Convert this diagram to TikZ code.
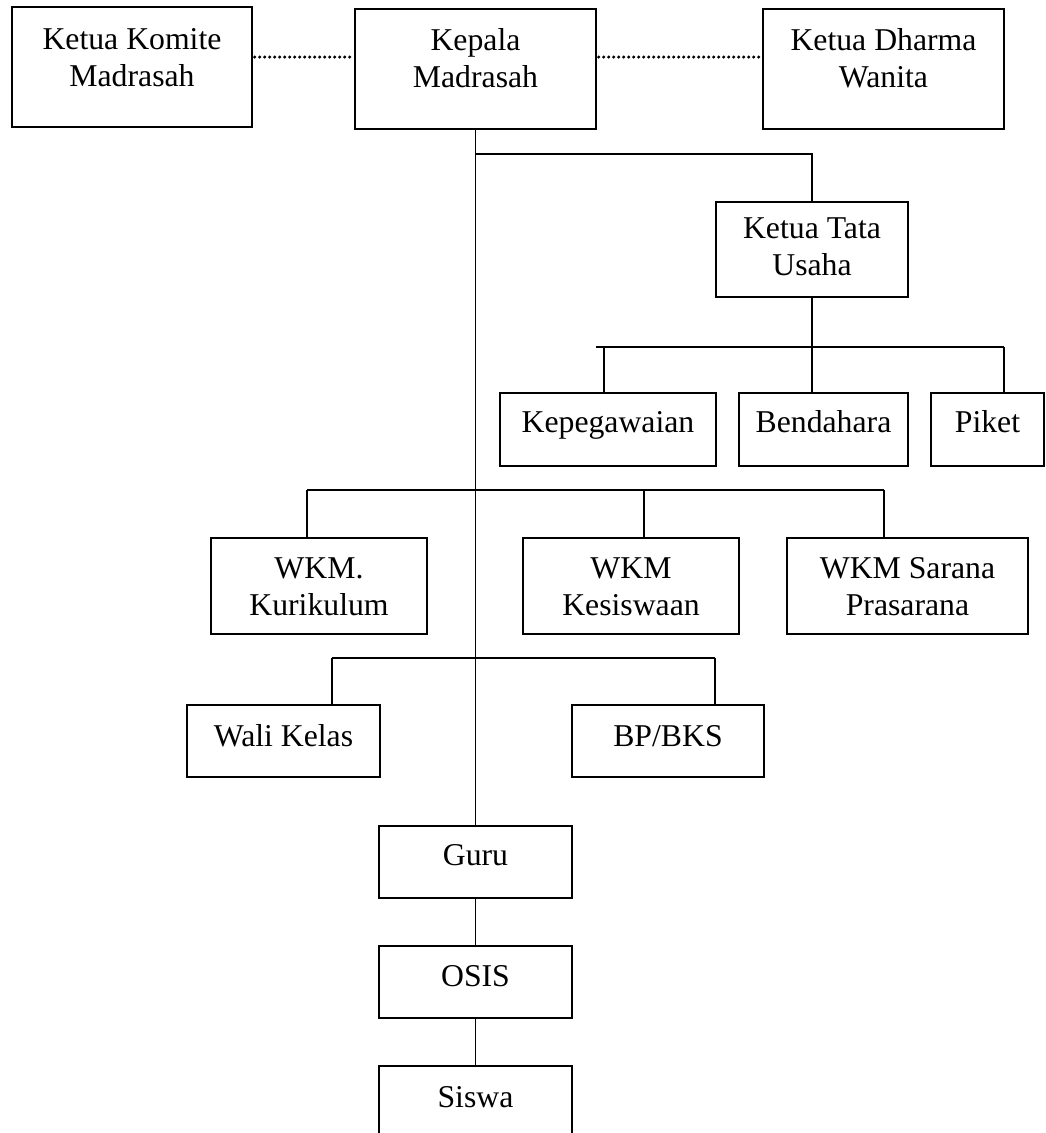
\documentclass[tikz,border=0pt]{standalone}
\usepackage{fontspec}
\setmainfont{Liberation Serif}
% name, x1, y1, x2, y2, offset of last baseline below top (px), text
\newcommand\orgbox[7]{%
  \node[boxst, anchor=north west, minimum width={(#4-#2)*0.75pt}, minimum height={(#5-#3)*0.75pt}] (#1) at (#2,#3) {};
  \node[txtst, anchor=base] (#1-t) at ([yshift={-(#6)*0.75pt}]#1.north) {#7};
}
\begin{document}
\begin{tikzpicture}[x=0.75pt,y=-0.75pt,
  boxst/.style={draw=black, line width=1.2pt, inner sep=0pt, outer sep=0pt, rectangle},
  txtst/.style={align=center, inner sep=0pt, font=\fontsize{23.8}{27.75}\selectfont},
  conn/.style={line width=1.2pt},
  dotline/.style={line width=2.5pt, line cap=round, dash pattern=on 0pt off 3.75pt}]
\clip (0,0) rectangle (1046,1133);
\fill[white] (0,0) rectangle (1046,1133);

\orgbox{komite}{12}{7}{252}{127}{79}{Ketua Komite\\Madrasah}
\orgbox{kepala}{355}{9}{596}{129}{78}{Kepala\\Madrasah}
\orgbox{dharma}{763}{9}{1004}{129}{78}{Ketua Dharma\\Wanita}
\orgbox{tata}{716}{202}{908}{297}{73}{Ketua Tata\\Usaha}
\orgbox{kepeg}{500}{393}{716}{466}{39}{Kepegawaian}
\orgbox{benda}{739}{393}{908}{466}{39}{Bendahara}
\orgbox{piket}{931}{393}{1044}{466}{39}{Piket}
\orgbox{kuri}{211}{538}{427}{634}{77}{WKM.\\Kurikulum}
\orgbox{kesis}{523}{538}{739}{634}{77}{WKM\\Kesiswaan}
\orgbox{sarana}{787}{538}{1028}{634}{77}{WKM Sarana\\Prasarana}
\orgbox{wali}{187}{705}{380}{777}{41}{Wali Kelas}
\orgbox{bp}{572}{705}{764}{777}{41}{BP/BKS}
\orgbox{guru}{379}{826}{572}{898}{39}{Guru}
\orgbox{osis}{379}{946}{572}{1018}{40}{OSIS}
\orgbox{siswa}{379}{1066}{572}{1150}{41}{Siswa}

% dotted links
\draw[dotline] ([xshift=2pt]komite.east |- 0,57) -- ([xshift=-2pt]kepala.west |- 0,57);
\draw[dotline] ([xshift=2pt]kepala.east |- 0,57) -- ([xshift=-2pt]dharma.west |- 0,57);

% trunk
\draw[conn] (kepala.south) -- (guru.north);
\draw[conn] (guru.south) -- (osis.north);
\draw[conn] (osis.south) -- (siswa.north);

% tata usaha branch
\draw[conn] (kepala.south |- 0,154) -| (tata.north);
\draw[conn] (tata.south) -- (tata.south |- benda.north);
\draw[conn] (596,347) -- (1004,347);
\draw[conn] (604,347) -- (604,347 |- kepeg.north);
\draw[conn] (1004,347) -- (1004,347 |- piket.north);

% WKM branch
\draw[conn] (307,490) -- (884,490);
\draw[conn] (307,490) -- (307,490 |- kuri.north);
\draw[conn] (644,490) -- (644,490 |- kesis.north);
\draw[conn] (884,490) -- (884,490 |- sarana.north);

% wali / bp branch
\draw[conn] (332,658) -- (715,658);
\draw[conn] (332,658) -- (332,658 |- wali.north);
\draw[conn] (715,658) -- (715,658 |- bp.north);
\end{tikzpicture}
\end{document}
